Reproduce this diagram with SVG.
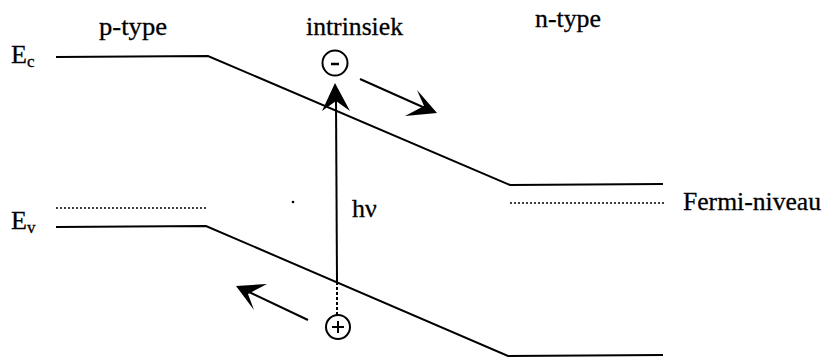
<svg xmlns="http://www.w3.org/2000/svg" width="825" height="359" viewBox="0 0 825 359">
<style>
text{font-family:'Liberation Serif','DejaVu Serif',serif;fill:#000;stroke:#000;stroke-width:0.3}
.lbl{font-size:26px}
.sub{font-size:17px}
.band{fill:none;stroke:#000;stroke-width:2;stroke-linejoin:miter}
.fermi{fill:none;stroke:#000;stroke-width:1.5;stroke-dasharray:2 2}
.arr{fill:none;stroke:#000;stroke-width:2}
.head{fill:#000;stroke:none}
.carrier{fill:#fff;stroke:#000;stroke-width:2}
</style>
<rect width="825" height="359" fill="#fff"/>
<g id="labels">
<text class="lbl" x="99" y="35" textLength="68" lengthAdjust="spacingAndGlyphs">p-type</text>
<text class="lbl" x="306" y="35" textLength="97" lengthAdjust="spacingAndGlyphs">intrinsiek</text>
<text class="lbl" x="535" y="27" textLength="66" lengthAdjust="spacingAndGlyphs">n-type</text>
<text class="lbl" x="683" y="210" textLength="138" lengthAdjust="spacingAndGlyphs">Fermi-niveau</text>
<text class="lbl" x="352" y="217">hν</text>
<text class="lbl" x="11" y="63">E<tspan class="sub" dy="4">c</tspan></text>
<text class="lbl" x="11" y="229">E<tspan class="sub" dy="4">v</tspan></text>
</g>
<g id="conduction-band">
<polyline class="band" points="56,57 208,56 510,185 663,184"/>
</g>
<g id="valence-band">
<polyline class="band" points="56,227 206,226 508,356 663,355"/>
</g>
<g id="fermi-level">
<line class="fermi" x1="56" y1="208" x2="206" y2="208"/>
<line class="fermi" x1="510" y1="203" x2="665" y2="203"/>
</g>
<g id="electron">
<circle class="carrier" cx="335" cy="63" r="12.5"/>
<line x1="331" y1="64" x2="339" y2="64" stroke="#000" stroke-width="2.5"/>
</g>
<g id="hole">
<circle class="carrier" cx="338" cy="327" r="12"/>
<line x1="332" y1="327" x2="344" y2="327" stroke="#000" stroke-width="2"/>
<line x1="338" y1="321" x2="338" y2="333" stroke="#000" stroke-width="2"/>
</g>
<g id="connectors">
<line class="arr" x1="336" y1="100" x2="337" y2="282" stroke-width="1.5"/>
<line class="arr" x1="337" y1="282" x2="337" y2="315" stroke-width="1.5" stroke-dasharray="3 2"/>
<polygon class="head" points="335,83 350,111 336,101 322,111"/>
<line class="arr" x1="360" y1="79" x2="425" y2="108"/>
<polygon class="head" points="437,113 405,116 424,106 417,90"/>
<line class="arr" x1="308" y1="320" x2="247" y2="291"/>
<polygon class="head" points="236,286 267,284 248,294 254,310"/>
</g>
<circle cx="293" cy="202" r="1.3" fill="#000"/>
</svg>
